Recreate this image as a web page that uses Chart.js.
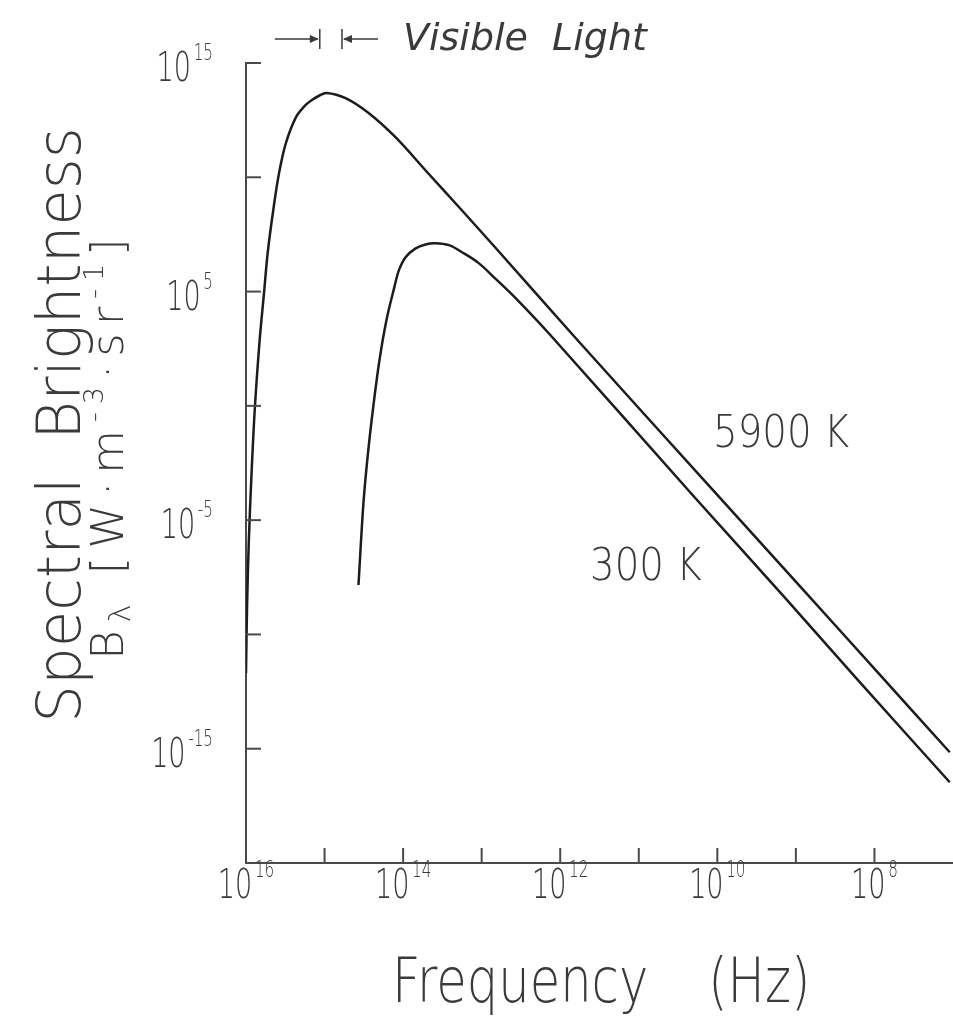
<!DOCTYPE html>
<html>
<head>
<meta charset="utf-8">
<script src="https://cdn.jsdelivr.net/npm/chart.js@4.4.1/dist/chart.umd.min.js"></script>
<style>
  html, body { margin: 0; padding: 0; background: #fff; overflow: hidden; }
  #wrap { width: 953px; height: 1016px; }
</style>
</head>
<body>
<div id="wrap"><canvas id="planck"></canvas></div>
<script>
// 5900 K curve (frequency in Hz, brightness in W m^-3 sr^-1)
var freq5900 = [1.0e16, 9.7e15, 9.2e15, 8.5e15, 7.7e15, 6.7e15, 5.9e15, 5.3e15, 4.5e15, 3.8e15, 3.1e15, 2.3e15, 1.75e15, 1.45e15, 1.19e15, 9.4e14,
    5.4e14, 2.75e14, 1.26e14, 4.8e13, 1.8e13, 6.8e12, 6.5e11, 1.23e10, 7.2e8, 8.5e7, 1.1e7];
var bright5900 = [2e-12, 1.55e-9, 1.3e-6, 1.1e-3, 0.89, 760, 8.5e4, 4.8e6, 3.6e8, 1.5e10, 3.2e11, 4.4e12, 1.45e13, 2.4e13, 3.6e13, 4.9e13,
    2.9e13, 6.5e12, 5.8e11, 1.5e10, 3.7e8, 8.9e6, 1e3, 2.8e-4, 5.8e-9, 1.7e-12, 7e-16];

// 300 K curve
var freq300 = [3.7e14, 3.2e14, 2.8e14, 2.4e14, 2.0e14, 1.63e14, 1.29e14, 1.13e14, 9.3e13, 7.0e13, 5.2e13, 3.9e13,
    2.6e13, 1.8e13, 1.1e13, 6.8e12, 3.7e12, 1.4e12, 1.95e10, 1.4e9, 1.8e8, 1.1e7];
var bright300 = [1.45e-8, 5.5e-5, 8.5e-3, 0.89, 100, 5.6e3, 1.6e5, 8.7e5, 3.2e6, 7.6e6, 1.15e7, 1.3e7,
    1.07e7, 5.4e6, 1.8e6, 3.9e5, 5.2e4, 1.5e3, 1e-4, 4.3e-9, 1.5e-12, 3.4e-17];

// visible band edges (Hz)
var visibleBand = [1.15e15, 6.0e14];

// ticks (powers of ten)
var xTickExps = [15, 14, 13, 12, 11, 10, 9, 8];
var xLabelExps = [16, 14, 12, 10, 8];
var yTickExps = [15, 10, 5, 0, -5, -10, -15];
var yLabelExps = [15, 5, -5, -15];

var curveLabels = ['5900 K', '300 K'];

var ink = '#1c1c1c', axisInk = '#4a4a4a', textInk = '#3a3a3a';
var FAMILY = '"DejaVu Sans", "Liberation Sans", sans-serif';

function font(size, style) {
    return (style ? style + ' ' : '') + '200 ' + size + 'px ' + FAMILY;
}

// draws a row of text pieces (for superscripts / subscripts)
function drawRuns(ctx, runs, x, y, opts) {
    opts = opts || {};
    ctx.save();
    ctx.translate(x, y);
    if (opts.angle) ctx.rotate(opts.angle);
    ctx.scale(opts.sx || 1, 1);
    if ('letterSpacing' in ctx) ctx.letterSpacing = (opts.spacing || 0) + 'px';
    var total = 0;
    runs.forEach(function (r) {
        ctx.font = font(r.size, r.style);
        r.w = ctx.measureText(r.t).width + (r.dx || 0);
        total += r.w;
    });
    var cx = opts.align === 'center' ? -total / 2 : (opts.align === 'right' ? -total : 0);
    ctx.fillStyle = textInk;
    ctx.textBaseline = 'alphabetic';
    ctx.textAlign = 'left';
    runs.forEach(function (r) {
        ctx.font = font(r.size, r.style);
        ctx.fillText(r.t, cx + (r.dx || 0), r.dy || 0);
        cx += r.w;
    });
    ctx.restore();
}

function powRuns(e) {
    return [{t: '10', size: 41}, {t: String(e), size: 23, dy: -21, dx: 4}];
}

function seg(ctx, x1, y1, x2, y2) {
    ctx.beginPath();
    ctx.moveTo(x1, y1);
    ctx.lineTo(x2, y2);
    ctx.stroke();
}

var decorations = {
    id: 'decorations',
    afterDraw: function (chart) {
        var ctx = chart.ctx, area = chart.chartArea;
        var xs = chart.scales.x, ys = chart.scales.y;
        ctx.save();

        // inward tick marks
        ctx.strokeStyle = axisInk;
        ctx.lineWidth = 2;
        xTickExps.forEach(function (e) {
            var px = xs.getPixelForValue(Math.pow(10, e));
            seg(ctx, px, area.bottom, px, area.bottom - 15);
        });
        yTickExps.forEach(function (e) {
            var py = ys.getPixelForValue(Math.pow(10, e));
            seg(ctx, area.left, py, area.left + 15, py);
        });

        // tick labels
        yLabelExps.forEach(function (e) {
            var py = ys.getPixelForValue(Math.pow(10, e));
            drawRuns(ctx, powRuns(e), 213, py + 18, {align: 'right', sx: 0.66});
        });
        xLabelExps.forEach(function (e) {
            var px = xs.getPixelForValue(Math.pow(10, e));
            drawRuns(ctx, powRuns(e), px, area.bottom + 35, {align: 'center', sx: 0.66});
        });

        // axis titles
        drawRuns(ctx, [{t: 'Spectral  Brightness', size: 60}], 80, 425,
            {angle: -Math.PI / 2, align: 'center', sx: 0.99});
        drawRuns(ctx, [
            {t: 'B', size: 45},
            {t: 'λ', size: 30, dy: 7},
            {t: ' [', size: 45},
            {t: 'W·m', size: 45},
            {t: '-3', size: 27, dy: -20},
            {t: '·sr', size: 45},
            {t: '-1', size: 27, dy: -20},
            {t: ']', size: 45}
        ], 123, 445, {angle: -Math.PI / 2, align: 'center', spacing: 8});
        drawRuns(ctx, [{t: 'Frequency', size: 62}, {t: '(Hz)', size: 62, dx: 75}],
            392, 1002, {sx: 0.8});

        // curve labels
        drawRuns(ctx, [{t: curveLabels[0], size: 44}], 713, 447, {sx: 0.88});
        drawRuns(ctx, [{t: curveLabels[1], size: 44}], 590, 580, {sx: 0.88});

        // visible light marker
        var v1 = xs.getPixelForValue(visibleBand[0]);
        var v2 = xs.getPixelForValue(visibleBand[1]);
        var ay = 39;
        ctx.strokeStyle = textInk;
        ctx.fillStyle = textInk;
        ctx.lineWidth = 1.5;
        seg(ctx, v1, ay - 10, v1, ay + 10);
        seg(ctx, v2, ay - 10, v2, ay + 10);
        seg(ctx, v1 - 45, ay, v1 - 2, ay);
        seg(ctx, v2 + 2, ay, v2 + 36, ay);
        ctx.beginPath();
        ctx.moveTo(v1 - 1, ay); ctx.lineTo(v1 - 10, ay - 4); ctx.lineTo(v1 - 10, ay + 4);
        ctx.closePath(); ctx.fill();
        ctx.beginPath();
        ctx.moveTo(v2 + 1, ay); ctx.lineTo(v2 + 10, ay - 4); ctx.lineTo(v2 + 10, ay + 4);
        ctx.closePath(); ctx.fill();
        drawRuns(ctx, [{t: 'Visible  Light', size: 38, style: 'italic'}], 403, 50);

        ctx.restore();
    }
};

function points(xsArr, ysArr) {
    return xsArr.map(function (f, i) { return {x: f, y: ysArr[i]}; });
}

var ctx = document.getElementById('planck').getContext('2d');
var planckChart = new Chart(ctx, {
    type: 'line',
    data: {
        datasets: [{
            label: curveLabels[0],
            data: points(freq5900, bright5900),
            borderColor: ink,
            borderWidth: 2.5,
            pointRadius: 0,
            tension: 0.35,
            fill: false
        }, {
            label: curveLabels[1],
            data: points(freq300, bright300),
            borderColor: ink,
            borderWidth: 2.5,
            pointRadius: 0,
            tension: 0.35,
            fill: false
        }]
    },
    options: {
        responsive: true,
        maintainAspectRatio: false,
        devicePixelRatio: 1,
        animation: false,
        events: [],
        layout: {padding: {left: 246, top: 63, right: 0, bottom: 153}},
        plugins: {
            legend: {display: false},
            tooltip: {enabled: false}
        },
        scales: {
            x: {
                type: 'logarithmic',
                reverse: true,
                min: 1e7,
                max: 1e16,
                afterBuildTicks: function (s) {
                    s.ticks = xTickExps.map(function (e) { return {value: Math.pow(10, e)}; });
                },
                ticks: {display: false},
                grid: {display: true, drawOnChartArea: false, drawTicks: false},
                border: {display: true, color: axisInk, width: 2}
            },
            y: {
                type: 'logarithmic',
                min: 1e-20,
                max: 1e15,
                afterBuildTicks: function (s) {
                    s.ticks = yTickExps.map(function (e) { return {value: Math.pow(10, e)}; });
                },
                ticks: {display: false},
                grid: {display: true, drawOnChartArea: false, drawTicks: false},
                border: {display: true, color: axisInk, width: 2}
            }
        }
    },
    plugins: [decorations]
});
</script>
</body>
</html>
